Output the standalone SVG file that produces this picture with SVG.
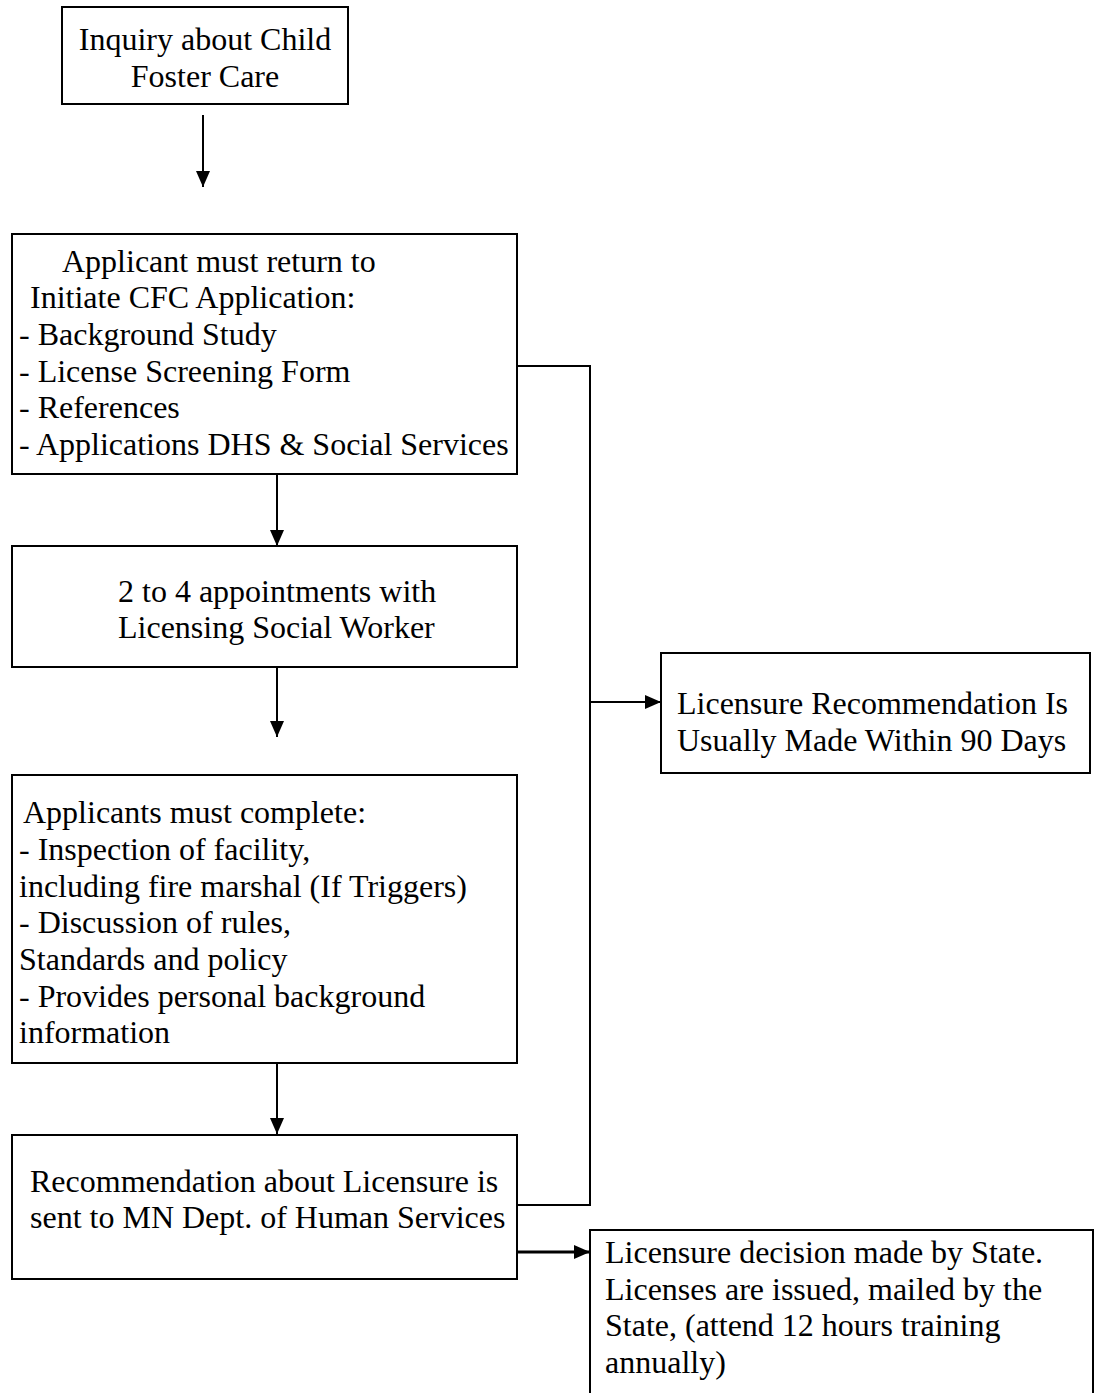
<svg xmlns="http://www.w3.org/2000/svg" width="1099" height="1393" viewBox="0 0 1099 1393">
<style>
.box{fill:#fff;stroke:#000;stroke-width:2}
.t{font-family:"Liberation Serif","Times New Roman",serif;font-size:32px;fill:#000}
.c{text-anchor:middle}
.ln{fill:none;stroke:#000;stroke-width:2}
</style>
<defs>
<marker id="ah" markerUnits="userSpaceOnUse" markerWidth="16" markerHeight="16" viewBox="0 0 16 16" refX="16" refY="8" orient="auto">
<path d="M0,1 L16,8 L0,15 Z" fill="#000"/>
</marker>
</defs>
<g id="connectors">
<line class="ln" x1="203" y1="115" x2="203" y2="187" marker-end="url(#ah)"/>
<line class="ln" x1="277" y1="474" x2="277" y2="546" marker-end="url(#ah)"/>
<line class="ln" x1="277" y1="667" x2="277" y2="737" marker-end="url(#ah)"/>
<line class="ln" x1="277" y1="1063" x2="277" y2="1134" marker-end="url(#ah)"/>
<polyline class="ln" points="517,366 590,366 590,1205 517,1205"/>
<line class="ln" x1="590" y1="702" x2="661" y2="702" marker-end="url(#ah)"/>
<line class="ln" style="stroke-width:3" x1="517" y1="1252" x2="590" y2="1252" marker-end="url(#ah)"/>
</g>
<g id="n1">
<rect class="box" x="62" y="7" width="286" height="97"/>
<text class="t c" x="205" y="50">Inquiry about Child</text>
<text class="t c" x="205" y="87">Foster Care</text>
</g>
<g id="n2">
<rect class="box" x="12" y="234" width="505" height="240"/>
<text class="t" x="62" y="272">Applicant must return to</text>
<text class="t" x="30" y="308">Initiate CFC Application:</text>
<text class="t" x="19" y="345">- Background Study</text>
<text class="t" x="19" y="382">- License Screening Form</text>
<text class="t" x="19" y="418">- References</text>
<text class="t" x="19" y="455">- Applications DHS &amp; Social Services</text>
</g>
<g id="n3">
<rect class="box" x="12" y="546" width="505" height="121"/>
<text class="t" x="118" y="602">2 to 4 appointments with</text>
<text class="t" x="118" y="638">Licensing Social Worker</text>
</g>
<g id="n4">
<rect class="box" x="12" y="775" width="505" height="288"/>
<text class="t" x="23" y="823">Applicants must complete:</text>
<text class="t" x="19" y="860">- Inspection of facility,</text>
<text class="t" x="19" y="897">including fire marshal (If Triggers)</text>
<text class="t" x="19" y="933">- Discussion of rules,</text>
<text class="t" x="19" y="970">Standards and policy</text>
<text class="t" x="19" y="1007">- Provides personal background</text>
<text class="t" x="19" y="1043">information</text>
</g>
<g id="n5">
<rect class="box" x="12" y="1135" width="505" height="144"/>
<text class="t" x="30" y="1192">Recommendation about Licensure is</text>
<text class="t" x="30" y="1228">sent to MN Dept. of Human Services</text>
</g>
<g id="n6">
<rect class="box" x="661" y="653" width="429" height="120"/>
<text class="t" x="677" y="714">Licensure Recommendation Is</text>
<text class="t" x="677" y="751">Usually Made Within 90 Days</text>
</g>
<g id="n7">
<rect class="box" x="590" y="1230" width="503" height="200"/>
<text class="t" x="605" y="1263">Licensure decision made by State.</text>
<text class="t" x="605" y="1300">Licenses are issued, mailed by the</text>
<text class="t" x="605" y="1336">State, (attend 12 hours training</text>
<text class="t" x="605" y="1373">annually)</text>
</g>
</svg>
